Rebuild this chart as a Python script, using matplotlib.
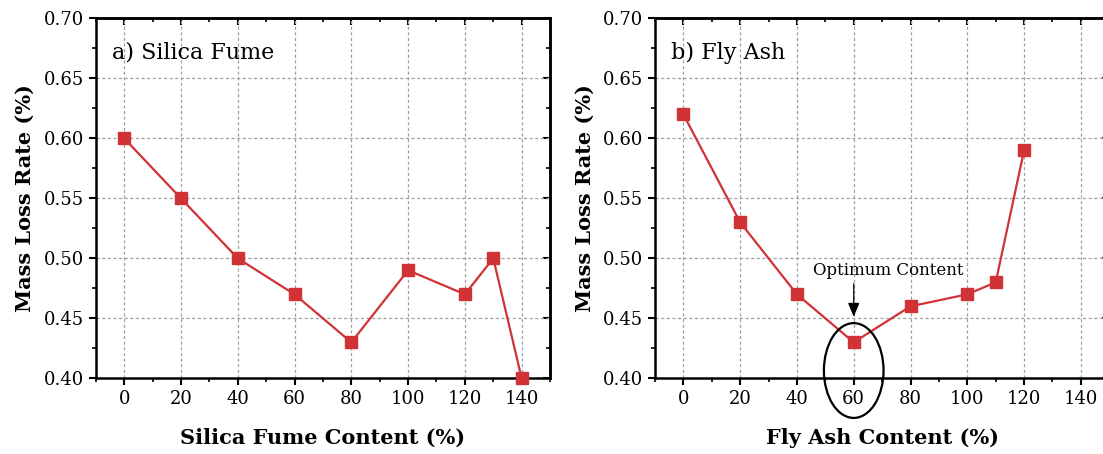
import matplotlib
matplotlib.use("Agg")
import matplotlib.pyplot as plt
from matplotlib.patches import Ellipse
from matplotlib.ticker import MultipleLocator

plt.rcParams['font.family'] = ['DejaVu Serif']

# Silica fume panel
sf_content = [0, 20, 40, 60, 80, 100, 120, 130, 140]
sf_loss = [0.60, 0.55, 0.50, 0.47, 0.43, 0.49, 0.47, 0.50, 0.40]

# Fly ash panel
fa_content = [0, 20, 40, 60, 80, 100, 110, 120]
fa_loss = [0.62, 0.53, 0.47, 0.43, 0.46, 0.47, 0.48, 0.59]

x_ticks = [0, 20, 40, 60, 80, 100, 120, 140]
y_ticks = [0.40, 0.45, 0.50, 0.55, 0.60, 0.65, 0.70]

red = '#d03236'

fig = plt.figure(figsize=(11.03, 4.54), dpi=100)
ax1 = fig.add_axes([0.0868, 0.1667, 0.4119, 0.7930])
ax2 = fig.add_axes([0.5938, 0.1667, 0.4119, 0.7930])


def style_axes(ax, xlabel, title):
    ax.set_xlim(-10, 150)
    ax.set_ylim(0.40, 0.70)
    ax.set_xticks(x_ticks)
    ax.set_yticks(y_ticks)
    ax.set_yticklabels(['%.2f' % v for v in y_ticks])
    ax.xaxis.set_minor_locator(MultipleLocator(10))
    ax.yaxis.set_minor_locator(MultipleLocator(0.025))
    ax.tick_params(which='major', direction='out', length=5, width=1.5, labelsize=13)
    ax.tick_params(which='minor', direction='out', length=3, width=1.2)
    ax.grid(True, which='major', linestyle=(0, (2.5, 2)), color='#a0a0a0', linewidth=0.9)
    for s in ax.spines.values():
        s.set_linewidth(1.8)
    ax.set_xlabel(xlabel, fontsize=15, fontweight='bold', labelpad=14)
    ax.set_ylabel('Mass Loss Rate (%)', fontsize=15, fontweight='bold', labelpad=6)
    ax.text(0.035, 0.905, title, transform=ax.transAxes, fontsize=16, va='center')

    # mirrored ticks on top and right, pointing inward
    top = ax.secondary_xaxis('top')
    top.set_xticks(x_ticks)
    top.xaxis.set_minor_locator(MultipleLocator(10))
    top.tick_params(which='major', direction='in', length=5, width=1.5, labeltop=False)
    top.tick_params(which='minor', direction='in', length=3, width=1.2)
    right = ax.secondary_yaxis('right')
    right.set_yticks(y_ticks)
    right.yaxis.set_minor_locator(MultipleLocator(0.025))
    right.tick_params(which='major', direction='in', length=5, width=1.5, labelright=False)
    right.tick_params(which='minor', direction='in', length=3, width=1.2)
    for sec in (top, right):
        for s in sec.spines.values():
            s.set_linewidth(1.8)


ax1.plot(sf_content, sf_loss, color=red, marker='s', markersize=9, linewidth=1.6,
         clip_on=False, zorder=3)
style_axes(ax1, 'Silica Fume Content (%)', 'a) Silica Fume')

ax2.plot(fa_content, fa_loss, color=red, marker='s', markersize=9, linewidth=1.6,
         clip_on=False, zorder=3)
style_axes(ax2, 'Fly Ash Content (%)', 'b) Fly Ash')

# optimum content annotation
ax2.annotate('', xy=(60, 0.449), xytext=(60, 0.481),
             arrowprops=dict(arrowstyle='-|>,head_width=0.25,head_length=0.6',
                             color='black', lw=0.9, mutation_scale=14))
ax2.text(72, 0.490, 'Optimum Content', fontsize=12, ha='center', va='center')
ell = Ellipse((60, 0.4065), width=21, height=0.079, fill=False, edgecolor='black',
              linewidth=1.6, clip_on=False, zorder=4)
ax2.add_patch(ell)

fig.savefig('out.png', dpi=100)
